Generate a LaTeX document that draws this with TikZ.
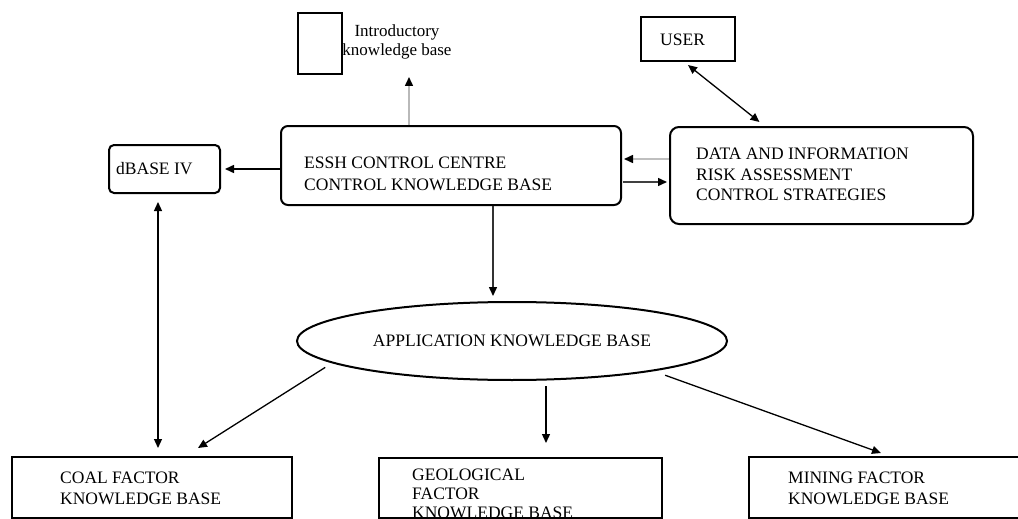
\documentclass[tikz,border=0pt]{standalone}
\usepackage{fontspec}
\setmainfont{Liberation Serif}
\usetikzlibrary{arrows.meta,shapes.geometric}
\begin{document}
\begin{tikzpicture}[x=1pt,y=-1pt,
  box/.style={draw,line width=2pt,inner sep=0pt,anchor=north west},
  rbox/.style={box,rounded corners=7pt},
  txt/.style={inner sep=0pt,anchor=north west,align=left,font=\fontsize{17.5}{21}\selectfont},
  arr/.style={line width=1.5pt,-{Triangle[length=9pt,width=8pt,color=black]}},
  darr/.style={line width=1.3pt,{Triangle[length=9pt,width=8pt]}-{Triangle[length=9pt,width=8pt]}},
]
\useasboundingbox (0,0) rectangle (1018,519);

% boxes
\node[box,minimum width=44pt,minimum height=61pt] (intro) at (297,12) {};
\node[txt,anchor=north,align=center,font=\fontsize{17}{19}\selectfont] (introT) at (397,25) {Introductory\\knowledge base};
\node[box,minimum width=94pt,minimum height=44pt] (user) at (640,16) {};
\node[txt] (userT) at (660,34) {USER};

\node[rbox,minimum width=340pt,minimum height=79pt] (essh) at (280,125) {};
\node[txt,font=\fontsize{17.5}{22}\selectfont] (esshT) at (304,157) {ESSH CONTROL CENTRE\\CONTROL KNOWLEDGE BASE};

\node[rbox,rounded corners=9pt,minimum width=303pt,minimum height=97pt] (data) at (669,126) {};
\node[txt,font=\fontsize{17.5}{20.5}\selectfont] (dataT) at (696,148) {DATA AND INFORMATION\\RISK ASSESSMENT\\CONTROL STRATEGIES};

\node[rbox,rounded corners=5pt,minimum width=111pt,minimum height=48pt] (dbase) at (108,144) {};
\node[txt] (dbaseT) at (116,162) {dBASE\ IV};

\node[draw,ellipse,line width=2pt,inner sep=0pt,minimum width=430pt,minimum height=78pt,
      font=\fontsize{17.5}{21}\selectfont] (app) at (512,341) {APPLICATION KNOWLEDGE BASE};

\node[txt] (coalT) at (60,472) {COAL FACTOR\\KNOWLEDGE BASE};
\node[box,minimum width=280pt,minimum height=61pt] (coal) at (11,456) {};
\node[txt,font=\fontsize{17.5}{19}\selectfont] (geoT) at (412,469) {GEOLOGICAL\\FACTOR\\KNOWLEDGE BASE};
\node[box,minimum width=283pt,minimum height=60pt] (geo) at (378,457) {};
\node[txt] (minT) at (788,472) {MINING FACTOR\\KNOWLEDGE BASE};
\node[box,minimum width=282pt,minimum height=61pt] (mining) at (748,456) {};

% connectors
\draw[arr,draw=gray!55] ([xshift=-42pt]essh.north) -- ([xshift=-42pt,yshift=48pt]essh.north);
\draw[arr] (essh.west |- dbase.east) -- ([xshift=4pt]dbase.east);
\draw[arr,draw=gray!50] ([yshift=16.5pt]data.west) -- ([yshift=16.5pt,xshift=2pt]data.west -| essh.east);
\draw[arr,draw=black!75] ([yshift=-6.5pt,xshift=1pt]data.west -| essh.east) -- ([yshift=-6.5pt,xshift=-2pt]data.west);
\draw[darr] ([yshift=-3pt]user.south) -- ([xshift=-62pt,yshift=4pt]data.north);
\draw[arr,draw=black!80] ([xshift=42pt]essh.south) -- ([xshift=42pt,yshift=5pt]essh.south |- app.north);
\draw[darr,shorten <=8pt,shorten >=8pt] ([xshift=-6.5pt]dbase.south) -- ([xshift=-6.5pt]dbase.south |- coal.north);
\draw[arr,line width=1.3pt,shorten <=8pt] (app.187) -- ([xshift=46pt,yshift=8pt]coal.north);
\draw[arr,line width=1.3pt] ([xshift=34pt,yshift=-5pt]app.south) -- ([xshift=34pt,yshift=14pt]app.south |- geo.north);
\draw[arr,line width=1.3pt,shorten <=12pt] (app.348) -- ([xshift=-9pt,yshift=3pt]mining.north);
\end{tikzpicture}
\end{document}
